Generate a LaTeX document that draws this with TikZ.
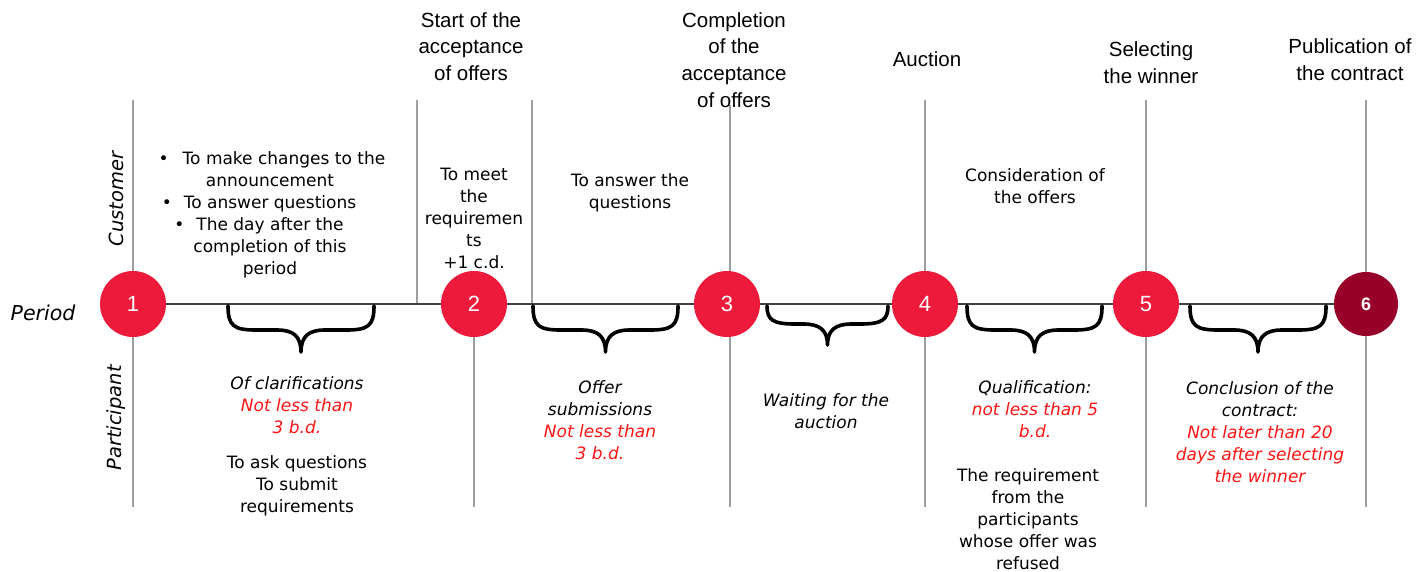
\documentclass[tikz,border=0pt]{standalone}
\usepackage{fontspec}
\setmainfont{DejaVu Sans}
\newfontfamily\hdfont{Liberation Sans}
\definecolor{circred}{HTML}{ED1A3B}
\definecolor{circdark}{HTML}{990029}
\definecolor{txtred}{HTML}{FF1414}
\definecolor{divgray}{HTML}{9E9E9E}
\newcommand{\tlbrace}[4]{%
\draw[bracestyle] (#1,306) .. controls (#1,#3-4) and (#1+6,#3) .. (#1+28,#3)
 -- ({(#1+#2)/2-24},#3) .. controls ({(#1+#2)/2-8},#3) and ({(#1+#2)/2},#3+6) .. ({(#1+#2)/2},#4)
 .. controls ({(#1+#2)/2},#3+6) and ({(#1+#2)/2+8},#3) .. ({(#1+#2)/2+24},#3)
 -- (#2-28,#3) .. controls (#2-6,#3) and (#2,#3-4) .. (#2,306);}
\begin{document}
\begin{tikzpicture}[x=1pt,y=-1pt,
  divider/.style={draw=divgray,line width=1.4pt},
  axisline/.style={draw=black!75,line width=1.2pt},
  bracestyle/.style={draw=black,line width=3.6pt,line cap=round,line join=round},
  stagecirc/.style={circle,fill=circred,minimum size=66pt,inner sep=0pt,text=white,font=\hdfont\fontsize{22}{22}\selectfont},
  finalcirc/.style={circle,fill=circdark,minimum size=64pt,inner sep=0pt,text=white,font=\hdfont\bfseries\fontsize{18}{18}\selectfont},
  header/.style={align=center,inner sep=0pt,font=\hdfont\fontsize{20.5}{26.7}\selectfont},
  body/.style={align=center,inner sep=0pt,font=\fontsize{17}{22}\selectfont},
  bodyit/.style={align=center,inner sep=0pt,font=\itshape\fontsize{17}{22}\selectfont},
  side/.style={inner sep=0pt,font=\itshape\fontsize{19.5}{22}\selectfont}]
\useasboundingbox (0,0) rectangle (1418,572);
\fill[white] (0,0) rectangle (1418,572);
% event coordinates
\coordinate (p1) at (133,304);
\coordinate (p2) at (474,304);
\coordinate (p3) at (727,304);
\coordinate (p4) at (925,304);
\coordinate (p5) at (1146,304);
\coordinate (p6) at (1366,304);
% dividers
\coordinate (t1) at (133,100); \coordinate (b1) at (133,507);
\coordinate (ta) at (417,100); \coordinate (ba) at (417,304);
\coordinate (tb) at (532,100); \coordinate (bb) at (532,304);
\coordinate (b2) at (474,507);
\coordinate (t3) at (730,105); \coordinate (b3) at (730,507);
\coordinate (t4) at (925,100); \coordinate (b4) at (925,507);
\coordinate (t5) at (1146,100); \coordinate (b5) at (1146,507);
\coordinate (t6) at (1366,100); \coordinate (b6) at (1366,507);
\draw[divider] (t1) -- (b1);
\draw[divider] (ta) -- (ba);
\draw[divider] (tb) -- (bb);
\draw[divider] (p2) -- (b2);
\draw[divider] (t3) -- (b3);
\draw[divider] (t4) -- (b4);
\draw[divider] (t5) -- (b5);
\draw[divider] (t6) -- (b6);
\draw[axisline] (p1) -- (p6);
% circles
\node[stagecirc] (c1) at (p1) {1};
\node[stagecirc] (c2) at (p2) {2};
\node[stagecirc] (c3) at (p3) {3};
\node[stagecirc] (c4) at (p4) {4};
\node[stagecirc] (c5) at (p5) {5};
\node[finalcirc] (c6) at (p6) {6};
% braces
\tlbrace{228}{374}{330}{352}
\tlbrace{533}{678}{330}{352}
\tlbrace{767}{888}{324}{345}
\tlbrace{967}{1102}{330}{352}
\tlbrace{1190}{1326}{330}{352}
% headers
\node[header] (h2) at (471,46.5) {Start of the\\acceptance\\of offers};
\node[header] (h3) at (734,60) {Completion\\of the\\acceptance\\of offers};
\node[header] (h4) at (927,59) {Auction};
\node[header] (h5) at (1151,62.5) {Selecting\\the winner};
\node[header] (h6) at (1350,60) {Publication of\\the contract};
% side labels
\node[side] (period) at (43,313) {\fontsize{20.5}{22}\selectfont Period};
\node[side,rotate=90] (cust) at (116,199) {Customer};
\node[side,rotate=90] (part) at (116,418) {Participant};
% customer texts
\node[body] (cu1) at (270,215) {\hspace*{28pt}\llap{\textbullet\hspace{14pt}}To make changes to the\\announcement\\\llap{\textbullet\hspace{12pt}}To answer questions\\\llap{\textbullet\hspace{12pt}}The day after the\\completion of this\\period};
\node[body] (cu2) at (474,218) {To meet\\the\\requiremen\\ts\\+1 c.d.};
\node[body] (cu3) at (630,193) {To answer the\\questions};
\node[body] (cu4) at (1035,186) {Consideration of\\the offers};
% participant texts
\node[bodyit] (pa1) at (297,405) {Of clarifications\\\textcolor{txtred}{Not less than}\\\textcolor{txtred}{3 b.d.}};
\node[body] (pa1b) at (297,486) {To ask questions\\To submit\\requirements};
\node[bodyit] (pa2) at (600,420) {Offer\\submissions\\\textcolor{txtred}{Not less than}\\\textcolor{txtred}{3 b.d.}};
\node[bodyit] (pa3) at (826,411) {Waiting for the\\auction};
\node[bodyit] (pa4) at (1035,409) {Qualification:\\\textcolor{txtred}{not less than 5}\\\textcolor{txtred}{b.d.}};
\node[body] (pa4b) at (1028,519) {The requirement\\from the\\participants\\whose offer was\\refused};
\node[bodyit] (pa5) at (1260,432) {Conclusion of the\\contract:\\\textcolor{txtred}{Not later than 20}\\\textcolor{txtred}{days after selecting}\\\textcolor{txtred}{the winner}};
\end{tikzpicture}
\end{document}
